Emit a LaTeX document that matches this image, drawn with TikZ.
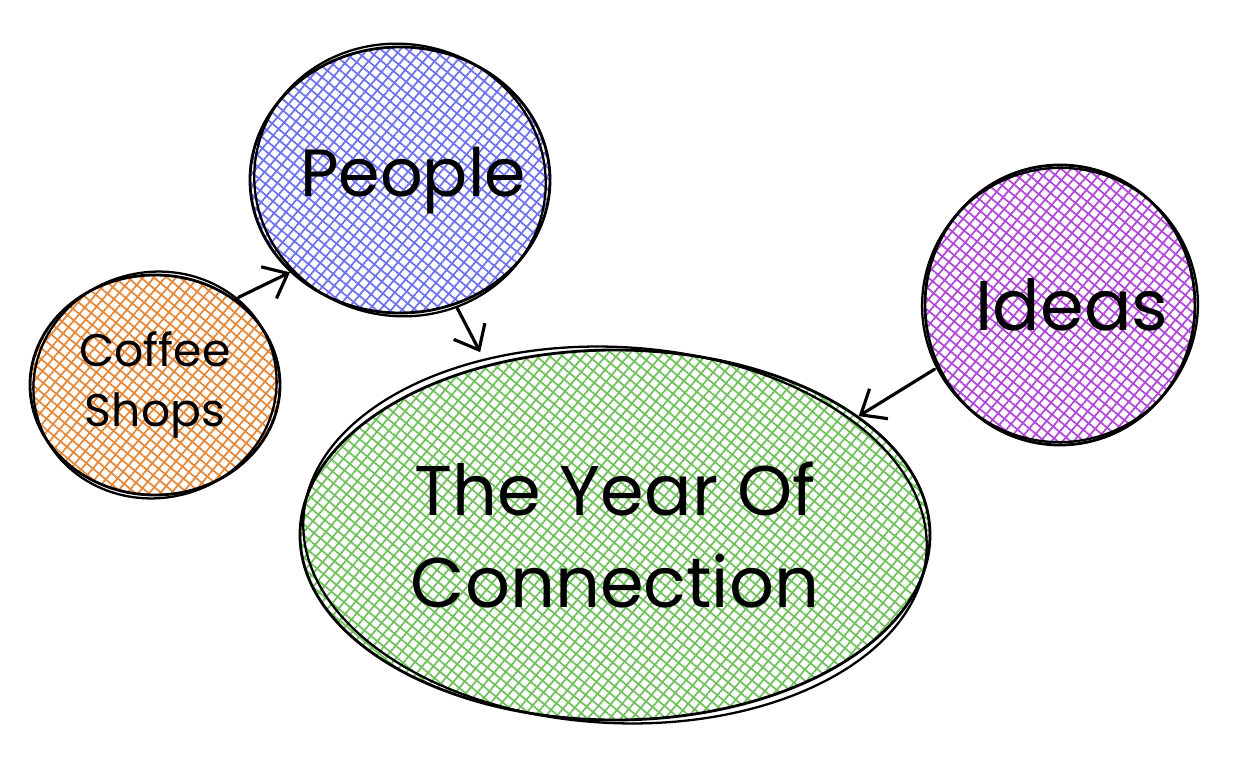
\documentclass[tikz,border=0pt]{standalone}
\usepackage{fontspec}
\usetikzlibrary{shapes.geometric,arrows.meta,patterns.meta}
\newfontfamily\handfont{Poppins}

\definecolor{peoplecol}{HTML}{6E72EC}
\definecolor{coffeecol}{HTML}{E4893A}
\definecolor{ideascol}{HTML}{B048D8}
\definecolor{yearcol}{HTML}{72C05E}

\begin{document}
\begin{tikzpicture}
			[every node/.style={ellipse,inner sep=0pt,align=center,font=\handfont},
			 bubble/.style={draw=black,line width=.8pt,
			   preaction={pattern={Lines[angle=50,distance=2.4pt,line width=.5pt]},pattern color=#1},
			   preaction={pattern={Lines[angle=-40,distance=2.4pt,line width=.5pt]},pattern color=#1}},
			 sketch/.style={draw=black,line width=.65pt},
			 arr/.style={-{Straight Barb[length=6pt,width=10pt]},line width=.9pt,line cap=round}]
			\useasboundingbox (0,0) rectangle (12.49,7.76);
			\node[bubble=peoplecol,minimum width=3cm,minimum height=2.66cm,font=\handfont\fontsize{19}{22}\selectfont] (people) at (4.00,5.96) {\makebox[0pt]{\hspace{.26cm}People}};
			\node[bubble=coffeecol,minimum width=2.5cm,minimum height=2.2cm,font=\handfont\fontsize{13}{17}\selectfont] (coffee) at (1.55,3.91) {Coffee\\Shops};
			\node[bubble=ideascol,minimum width=2.7cm,minimum height=2.8cm,font=\handfont\fontsize{20}{22}\selectfont] (ideas) at (10.60,4.71) {\makebox[0pt]{\hspace{.24cm}Ideas}};
			\node[bubble=yearcol,minimum width=6.3cm,minimum height=3.7cm,font=\handfont\fontsize{20}{26}\selectfont] (year) at (6.15,2.41) {The Year Of\\Connection};
			
			% second stroke round each bubble
			\draw[sketch] (people.center) ellipse [x radius=1.46cm,y radius=1.36cm,rotate=-10];
			\draw[sketch] (coffee.center) ellipse [x radius=1.22cm,y radius=1.13cm,rotate=12];
			\draw[sketch] (ideas.center) ellipse [x radius=1.38cm,y radius=1.37cm,rotate=20];
			\draw[sketch] (year.center) ellipse [x radius=3.12cm,y radius=1.88cm,rotate=-3];
			
			\foreach \from/\to/\gap in {coffee.47/people.220/0pt,people.-66/year.127/4pt,ideas.207/year.26/0pt}
			\draw[arr,shorten <=1pt,shorten >=\gap] (\from) -- (\to);
			\end{tikzpicture}
\end{document}
